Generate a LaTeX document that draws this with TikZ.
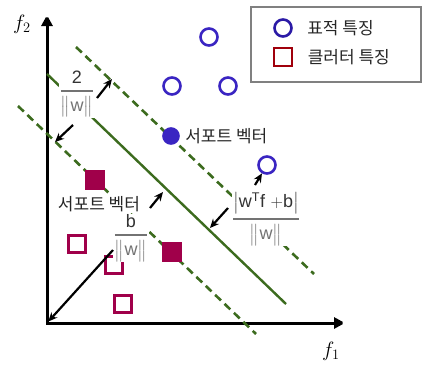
\documentclass[tikz,border=0pt]{standalone}
\usepackage{amsmath}
\usepackage{fontspec}
\setsansfont{Liberation Sans}
\newfontfamily\kr{Noto Sans CJK KR}
\usetikzlibrary{arrows.meta,positioning}
\definecolor{svmgreen}{HTML}{3C6B1E}
\definecolor{tgtblue}{HTML}{3A25C2}
\definecolor{legblue}{HTML}{2B1AA6}
\definecolor{clutred}{HTML}{A0004A}
\definecolor{legred}{HTML}{A0000C}
\newcommand{\nw}{\bigl\|\mathsf{w}\bigr\|}
\newcommand{\wfrac}[2]{\genfrac{}{}{1.6pt}{0}{#1}{#2}}
\begin{document}
\begin{tikzpicture}[x=1pt, y=-1pt, font=\kr\fontsize{17}{20}\selectfont,
  target/.style={circle, draw=tgtblue, line width=2.6pt, minimum size=17pt, inner sep=0pt},
  clutter/.style={rectangle, draw=clutred, line width=2.6pt, minimum size=17pt, inner sep=0pt},
  hyperline/.style={svmgreen, line width=2.4pt},
  marginline/.style={hyperline, line width=2.6pt, dash pattern=on 8pt off 5pt},
  fracbox/.style={fill=white, inner sep=0.5pt, text=black!55, font=\fontsize{18}{20}\selectfont},
  distarrow/.style={-{Stealth[length=9pt,width=8pt]}, line width=2.2pt}]
\useasboundingbox (0,0) rectangle (422,364);

% axes
\coordinate (O) at (47,323);
\coordinate (ytip) at (47,15);
\coordinate (xtip) at (345,323);
\draw[line width=3pt, miter limit=2, {Triangle[length=11pt,width=11pt]}-{Triangle[length=11pt,width=11pt]}] (ytip) -- (O) -- (xtip);
\node (f2) at (22,24) {\fontsize{21}{22}\selectfont$f_2$};
\node (f1) at (331,351) {\fontsize{21}{22}\selectfont$f_1$};

% hyperplane and margins
\coordinate (u1) at (76,47);
\coordinate (u2) at (314,274);
\coordinate (h1) at (47,74);
\coordinate (h2) at (286,304);
\coordinate (l1) at (18,106);
\coordinate (l2) at (256,334);
\draw[marginline] (u1) -- (u2);
\draw[hyperline] (h1) -- (h2);
\draw[marginline] (l1) -- (l2);

% target features
\foreach \p [count=\i] in {(209,37),(172,86),(228,86),(267,165)}
  \node[target] (t\i) at \p {};
\node[target, fill=tgtblue, minimum size=15pt] (sv1) at (171,136) {};

% clutter features
\foreach \p [count=\i] in {(77,244),(114,265),(123,304)}
  \node[clutter] (c\i) at \p {};
\foreach \p [count=\i] in {(95,180),(172,252)}
  \node[clutter, fill=clutred] (sq\i) at \p {};

% labels
\node[fracbox] (twow) at (77,94) {$\wfrac{\color{black!80}\mathsf{2}}{\nw}$};
\node[fracbox] (bw) at (131,238) {$\wfrac{\color{black!80}\mathsf{b}}{\nw}$};
\node[fracbox] (wfb) at (266,219) {$\wfrac{\color{black!80}\bigl|\mathsf{w}^{\mathsf{T}}\mathsf{f}\ {+}\mathsf{b}\bigr|}{\nw}$};
\node[fill=white, inner sep=1pt, text=black!85] (svl) at (99,204) {서포트 벡터};
\node[right=2pt of sv1, text=black!85] (svr) {서포트 벡터};

% distance arrows
\coordinate (m1) at (97,98);
\coordinate (m1e) at (112,79);
\coordinate (m2) at (73,125);
\coordinate (m2e) at (55,142);
\coordinate (s1) at (150,208);
\coordinate (s1e) at (163,192);
\coordinate (b1) at (113,250);
\coordinate (d1) at (255,185);
\coordinate (d2) at (228,208);
\coordinate (d2e) at (210,228);
\draw[distarrow] (m1) -- (m1e);
\draw[distarrow] (m2) -- (m2e);
\draw[distarrow] (s1) -- (s1e);
\draw[distarrow, shorten >=2pt] (b1) -- (O);
\draw[distarrow] (d1) -- (t4);
\draw[distarrow] (d2) -- (d2e);

% legend
\draw[gray, line width=1.3pt] (251,7) rectangle (421,82);
\node[target, draw=legblue] (legt) at (283,28) {};
\node[clutter, draw=legred, minimum size=18pt] (legc) at (283,57) {};
\node[right=11pt of legt, text=black!85] (legtt) {표적 특징};
\node[right=11pt of legc, text=black!85] (legct) {클러터 특징};

\end{tikzpicture}
\end{document}
